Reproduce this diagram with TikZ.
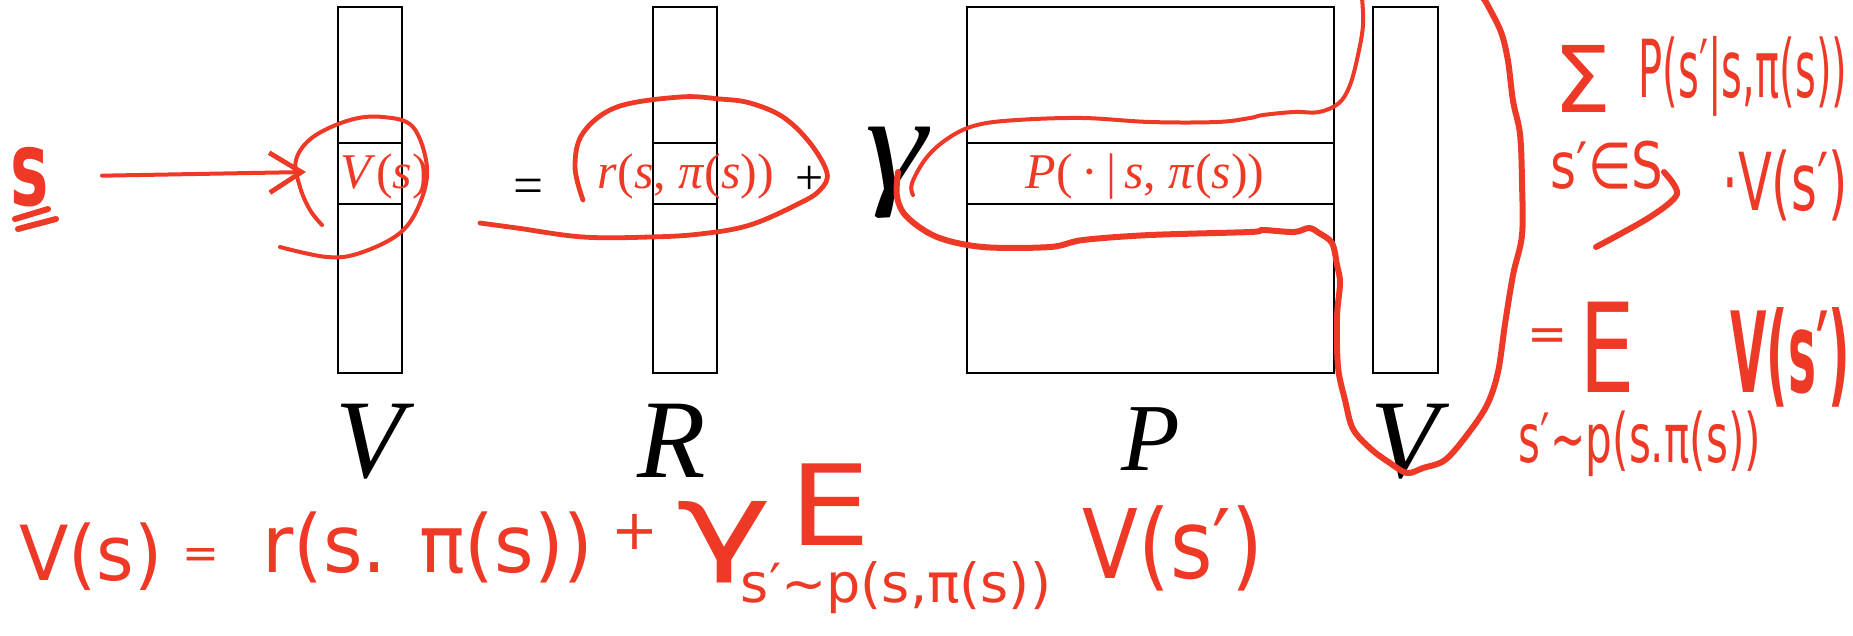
\documentclass[tikz,border=0pt]{standalone}
\usepackage{fontspec}
\usepackage{graphicx}
\setmainfont{Liberation Serif}
\newfontfamily\hand{DejaVu Sans}
\usetikzlibrary{arrows.meta}
\definecolor{ink}{RGB}{238,57,38}
\newcommand{\hwsz}[1]{\hand\fontsize{#1}{#1}\selectfont}
\newcommand{\prsz}[1]{\fontsize{#1}{#1}\selectfont}
\begin{document}
\begin{tikzpicture}[x=0.25pt,y=-0.25pt,
  col/.style={draw=black,line width=0.55pt,inner sep=0pt,minimum height=91.5pt},
  cell/.style={draw=black,line width=0.55pt,inner sep=0pt,minimum height=15.25pt},
  celltxt/.style={text=ink,inner sep=0pt,anchor=base,font=\prsz{12.5pt}},
  lab/.style={inner sep=0pt,anchor=base,font=\prsz{28pt}\itshape},
  hw/.style={text=ink,inner sep=0pt,anchor=base},
  hstroke/.style={draw=ink,line width=1pt,line cap=round,line join=round},
  hthick/.style={draw=ink,line width=1.5pt,line cap=round,line join=round}]
\useasboundingbox (0,0) rectangle (1853,635);

% printed columns
\node[col,minimum width=16pt] (colV) at (370,190) {};
\node[cell,minimum width=16pt] (cellV) at (370,173.5) {};
\node[col,minimum width=16pt] (colR) at (685,190) {};
\node[cell,minimum width=16pt] (cellR) at (685,173.5) {};
\node[col,minimum width=91.75pt] (colP) at (1150.5,190) {};
\node[cell,minimum width=91.75pt] (cellP) at (1150.5,173.5) {};
\node[col,minimum width=16.25pt] (colVb) at (1405.5,190) {};

% printed texts
\node[celltxt] (tV) at (385,188) {\textit{V}(\textit{s})};
\node[celltxt] (tR) at (686,188) {\textit{r}(\textit{s}, \textit{π}(\textit{s}))};
\node[celltxt] (tP) at (1145,188) {\textit{P}(\,·\,|\,\textit{s}, \textit{π}(\textit{s}))};
\node[inner sep=0pt,font=\prsz{13.3pt}] (eq) at (528,191) {=};
\node[inner sep=0pt,font=\prsz{12.5pt}] (plus) at (810,180) {+};
\node[inner sep=0pt,anchor=base,font=\prsz{34pt}\itshape] (gam) at (896,189) {\scalebox{1.15}[1]{γ}};

\node[lab] (lV) at (370,477) {V};
\node[lab] (lR) at (672,477) {R};
\node[lab,font=\prsz{24pt}\itshape] (lP) at (1151,470) {P};
\node[lab] (lVb) at (1405,477) {V};

% handwritten: left s and arrow
\node[hw,font=\hwsz{26pt}\bfseries] (sh) at (30,205) {\scalebox{0.62}[1]{s}};
\draw[hthick] (15,219) -- (48,209);
\draw[hthick] (18,229) -- (56,219);
\coordinate (vtip) at (306,172);
\draw[hstroke,shorten <=13pt,-{Straight Barb[length=8pt,width=10pt,line width=1.2pt]}] (sh.east) -- (vtip);

% circle around V(s)
\draw[hstroke] plot[smooth,tension=0.6] coordinates {(322,225) (310,210) (300,187) (296,160) (313,137) (350,120) (383,117) (413,127) (427,167) (420,203) (400,233) (360,253) (327,257) (280,247)};

% ellipse around r(s,pi(s)) with underline
\draw[hstroke,line width=1.2pt] plot[smooth,tension=0.6] coordinates {(583,200) (575,167) (583,133) (617,107) (680,97) (720,99) (750,103) (783,117) (810,143) (827,173) (820,190) (800,203) (750,225) (700,234) (650,237) (583,237) (517,228) (480,223)};

% loop gamma - P row - V
\draw[hstroke] plot[smooth,tension=0.6] coordinates {(913,195) (912,183) (927,157) (950,137) (977,125) (1017,120) (1083,118) (1150,122) (1217,122) (1250,118) (1263,115) (1294,112) (1319,112) (1339,103) (1350,85) (1358,55) (1363,25) (1362,-2)};
\draw[hthick] plot[smooth,tension=0.55] coordinates {(898,172) (897,197) (907,217) (937,237) (983,247) (1050,247) (1083,240) (1150,235) (1250,232) (1263,230) (1294,232) (1309,228) (1319,233) (1332,243) (1337,265) (1340,283) (1337,317) (1338,367) (1345,400) (1353,429) (1371,449) (1390,463) (1407,473) (1423,468) (1445,460) (1467,435) (1487,405) (1498,372) (1505,324) (1513,275) (1522,235) (1522,182) (1520,134) (1513,101) (1508,61) (1501,32) (1487,4) (1483,-2)};

% right annotations
\node[hw,font=\hwsz{23pt}] (r1) at (1583,112) {Σ};
\node[hw,font=\hwsz{20pt}] (r2) at (1743,97) {\scalebox{0.5}[1]{P(s′|s,π(s))}};
\node[hw,font=\hwsz{16pt}] (r3) at (1607,188) {\scalebox{0.78}[1]{s′∈S}};
\draw[hthick] plot[smooth] coordinates {(1664,172) (1677,194) (1650,217) (1596,247)};
\node[hw,font=\hwsz{20pt}] (r4) at (1785,210) {\scalebox{0.62}[1]{·V(s′)}};
\node[hw,anchor=center,font=\hwsz{12pt}] (r5) at (1548,340) {=};
\node[hw,font=\hwsz{31pt}] (r6) at (1607,392) {\scalebox{0.71}[1]{E}};
\node[hw,font=\hwsz{17pt}] (r7) at (1640,462) {\scalebox{0.62}[1]{s′∼p(s.π(s))}};
\node[hw,font=\hwsz{28pt}\bfseries] (r8) at (1790,392) {\scalebox{0.42}[1]{V(s′)}};

% bottom handwritten equation
\node[hw,font=\hwsz{19pt}] (b1) at (91,580) {\scalebox{0.95}[1]{V(s)}};
\node[hw,anchor=center,font=\hwsz{11pt}] (b2) at (201,558) {=};
\node[hw,font=\hwsz{20pt}] (b3) at (428,572) {\scalebox{0.95}[1]{r(s. π(s))}};
\node[hw,anchor=center,font=\hwsz{14pt}] (b4) at (635,532) {+};
\node[hw,font=\hwsz{27pt}] (b5) at (724,560) {\scalebox{1.5}[1]{γ}};
\node[hw,font=\hwsz{28pt}] (b6) at (830,545) {\scalebox{1.15}[1]{E}};
\node[hw,font=\hwsz{13.5pt}] (b7) at (896,602) {s′∼p(s,π(s))};
\node[hw,font=\hwsz{24pt}] (b8) at (1173,578) {\scalebox{0.85}[1]{V(s′)}};
\end{tikzpicture}
\end{document}
